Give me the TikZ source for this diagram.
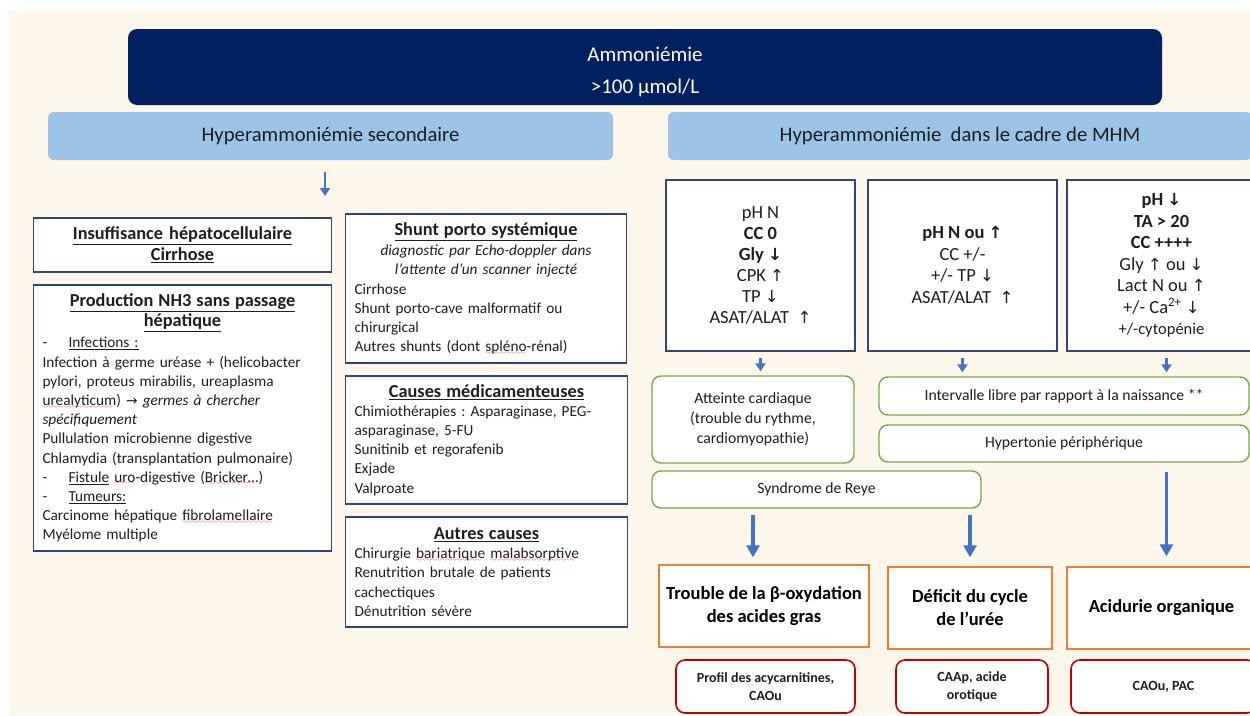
\documentclass[tikz,border=0pt]{standalone}
\usepackage{fontspec}
\setmainfont{Carlito}
\newfontfamily\arrowfont[Scale=0.9]{DejaVu Sans}
\usepackage{xcolor}
\usetikzlibrary{arrows.meta, positioning}
\frenchspacing

\definecolor{cream}{HTML}{FDF6EA}
\definecolor{navy}{HTML}{002060}
\definecolor{paleblue}{HTML}{9DC3E6}
\definecolor{frameblue}{HTML}{2F4676}
\definecolor{arrowblue}{HTML}{4472C4}
\definecolor{leafgreen}{HTML}{70AD47}
\definecolor{tanorange}{HTML}{ED7D31}
\definecolor{darkred}{HTML}{C00000}
\definecolor{ink}{HTML}{1E1E1E}

\font\wavyfont=lasy6
\newcommand{\hup}{{\arrowfont ↑}}
\newcommand{\hdn}{{\arrowfont ↓}}
\newcommand{\hto}{{\arrowfont →}}
\newcommand{\ctr}[1]{\makebox[\linewidth]{#1}}
\newcommand{\ul}[1]{\underline{#1}}
\newcommand{\titlefont}{\fontsize{18.3}{21}\selectfont\bfseries}
\newsavebox{\squigbox}
\newcommand{\squig}[1]{\leavevmode\sbox{\squigbox}{#1}%
  \rlap{\raisebox{-2.5pt}{\textcolor{red}{\leaders\hbox{\wavyfont\char58}\hskip\wd\squigbox}}}\usebox{\squigbox}}

\begin{document}
\begin{tikzpicture}[x=1pt, y=-1pt,
  headbox/.style={fill=navy, rounded corners=9pt, text=white, align=center, font=\fontsize{21}{32}\selectfont},
  groupbox/.style={fill=paleblue, rounded corners=6pt, text=ink, font=\fontsize{20.7}{24}\selectfont},
  causebox/.style={draw=frameblue, line width=1.6pt, fill=white, text=ink, align=left, inner xsep=9pt, inner ysep=3pt, font=\fontsize{15.3}{19.2}\selectfont},
  labbox/.style={draw=frameblue, line width=1.6pt, fill=white, text=ink, align=center, minimum width=189pt, minimum height=171pt, font=\fontsize{18.5}{21.5}\selectfont},
  signbox/.style={draw=leafgreen, line width=1.4pt, fill=white, rounded corners=9pt, align=center, text=ink, font=\fontsize{15.7}{20}\selectfont},
  diagbox/.style={draw=tanorange, line width=1.4pt, fill=white, align=center, text=black, font=\bfseries\fontsize{18.5}{23}\selectfont},
  testbox/.style={draw=darkred, line width=1.6pt, fill=white, rounded corners=9pt, align=center, text=ink, font=\bfseries\fontsize{14}{18}\selectfont},
  smallarr/.style={arrowblue, line width=2.6pt, -{Triangle[width=10pt,length=8pt]}},
  bigarr/.style={arrowblue, line width=3.6pt, -{Triangle[width=13pt,length=12pt]}},
  node distance=202pt, on grid]

\useasboundingbox (0,0) rectangle (1250,715);
\fill[cream] (9,11) rectangle (1250,715);

% header
\node[headbox, minimum width=1034pt, minimum height=76pt] (amm) at (645,67) {\rule{0pt}{24pt}Ammoniémie\\>100 µmol/L};
\node[groupbox, minimum width=565pt, minimum height=48pt] (sec) at (330.5,136) {Hyperammoniémie secondaire};
\node[groupbox, minimum width=584pt, minimum height=48pt] (mhm) at (960,136) {Hyperammoniémie\ \ dans le cadre de MHM};

% secondary causes
\node[causebox, text width=280pt, minimum height=54pt, align=center, font=\titlefont] (ins) at (182.5,245)
  {\ul{Insuffisance hépatocellulaire}\\\ul{Cirrhose}};
\node[causebox, text width=280pt, minimum height=266pt] (prod) at (182.5,418) {%
  \ctr{\titlefont\ul{Production NH3 sans passage}}\\[1pt]
  \ctr{\titlefont\ul{hépatique}}\\[2pt]
  -\hspace{1.4em}\ul{Infections :}\\
  Infection à germe uréase + (helicobacter\\
  pylori, proteus mirabilis, ureaplasma\\
  \squig{urealyticum}) \hto\ \textit{germes à chercher}\\
  \textit{spécifiquement}\\
  Pullulation microbienne digestive\\
  Chlamydia (transplantation pulmonaire)\\
  -\hspace{1.4em}\ul{Fistule} \squig{uro}-digestive (\squig{Bricker…})\\
  -\hspace{1.4em}\ul{Tumeurs:}\\
  Carcinome hépatique \squig{fibrolamellaire}\\
  Myélome multiple};
\node[causebox, text width=263pt, minimum height=149pt] (shunt) at (486,288.5) {%
  \ctr{\titlefont\ul{Shunt porto systémique}}\\[1pt]
  \ctr{\itshape diagnostic par Echo-doppler dans}\\
  \ctr{\itshape l’attente d’un scanner injecté}\\
  Cirrhose\\
  Shunt porto-cave malformatif ou\\
  chirurgical\\
  Autres shunts (dont \squig{spléno}-rénal)};
\node[causebox, text width=264pt, minimum height=128pt] (med) at (486.5,440) {%
  \ctr{\titlefont\ul{Causes médicamenteuses}}\\
  Chimiothérapies : Asparaginase, PEG-\\
  asparaginase, 5-FU\\
  Sunitinib et regorafenib\\
  Exjade\\
  Valproate};
\node[causebox, text width=264pt, minimum height=110pt] (autres) at (486.5,572) {%
  \ctr{\titlefont\ul{Autres causes}}\\
  Chirurgie \squig{bariatrique} \squig{malabsorptive}\\
  Renutrition brutale de patients\\
  cachectiques\\
  Dénutrition sévère};

% biology of the three groups
\node[labbox, font=\fontsize{18.5}{21}\selectfont] (boxA) at (760.5,265.5) {pH N\\\textbf{CC 0}\\\textbf{Gly \hdn}\\CPK \hup\\TP \hdn\\ASAT/ALAT\ \ \hup};
\node[labbox, right=of boxA] (boxB) {\textbf{pH N ou \hup}\\CC +/-\\+/- TP \hdn\\ASAT/ALAT\ \ \hup};
\node[labbox, right=199pt of boxB] (boxC) {\textbf{pH \hdn}\\\textbf{TA > 20}\\\textbf{CC ++++}\\Gly \hup{} ou \hdn\\Lact N ou \hup\\+/- Ca\textsuperscript{2+} \hdn\\{\fontsize{16.5}{21.5}\selectfont +/-cytopénie}};

% clinical signs
\node[signbox, minimum width=202pt, minimum height=87pt] (card) at (753,419.5) {Atteinte cardiaque\\(trouble du rythme,\\cardiomyopathie)};
\node[signbox, minimum width=370pt, minimum height=38pt] (inter) at (1064,396) {Intervalle libre par rapport à la naissance **};
\node[signbox, minimum width=370pt, minimum height=37pt] (hyper) at (1064,443.5) {Hypertonie périphérique};
\node[signbox, minimum width=329pt, minimum height=37pt] (reye) at (816.5,489.5) {Syndrome de Reye};

% diagnoses
\node[diagbox, minimum width=210pt, minimum height=82pt] (fao) at (764,606) {Trouble de la β-oxydation\\des acides gras};
\node[diagbox, minimum width=164pt, minimum height=82pt] (uree) at (970,608) {Déficit du cycle\\de l’urée};
\node[diagbox, minimum width=189pt, minimum height=82pt] (acid) at (1161.5,608) {Acidurie organique};

% tests
\node[testbox, minimum width=179pt, minimum height=53pt] (acyl) at (765.5,686.5) {Profil des acycarnitines,\\CAOu};
\node[testbox, minimum width=152pt, minimum height=53pt] (caap) at (972,686.5) {CAAp, acide\\orotique};
\node[testbox, minimum width=185pt, minimum height=53pt] (pac) at (1163.5,686.5) {CAOu, PAC};

\coordinate (secfoot) at (325,196);

\path[smallarr]
  (secfoot |- sec.south) edge[shorten <=12pt] (secfoot)
  (boxA.south) edge[shorten <=6pt, shorten >=4pt] (boxA.south |- card.north)
  (boxB.south) edge[shorten <=6pt, shorten >=4pt] (boxB.south |- inter.north)
  ([xshift=5pt]boxC.south) edge[shorten <=6pt, shorten >=4pt] ([xshift=5pt]boxC.south |- inter.north);

\path[bigarr]
  (card |- reye.south) edge[shorten <=6pt, shorten >=7pt] (card |- fao.north)
  (uree |- reye.south) edge[shorten <=6pt, shorten >=9pt] (uree.north)
  ([xshift=5pt]acid.north |- hyper.south) edge[shorten <=9pt, shorten >=10pt] ([xshift=5pt]acid.north);

\end{tikzpicture}
\end{document}
